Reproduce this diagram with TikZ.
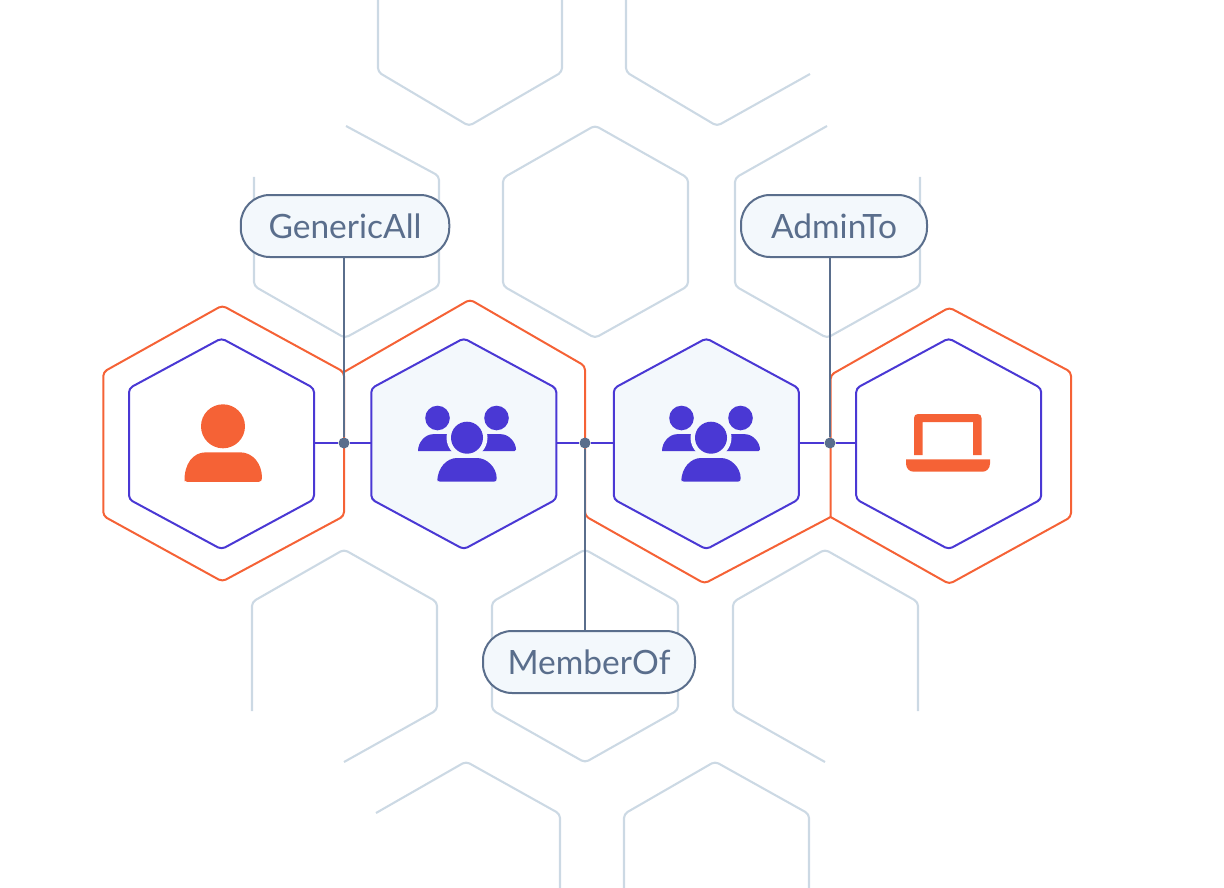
\documentclass[tikz,border=0pt]{standalone}
\usepackage{fontspec}
\setmainfont{Lato}
\usetikzlibrary{positioning, calc}
\definecolor{hexgrey}{HTML}{CCD9E4}
\definecolor{hexorange}{HTML}{F56236}
\definecolor{hexpurple}{HTML}{4A38D4}
\definecolor{slate}{HTML}{5A6E8C}
\definecolor{paleblue}{HTML}{F3F8FC}

\begin{document}
\begin{tikzpicture}
  [
  x = 1pt, y = -1pt,
  % background hexagons
  mesh/.style = {draw=hexgrey, line width=2.1pt, rounded corners=4pt},
  % big hexagons
  outer/.style = {draw=hexorange, line width=2pt, rounded corners=4pt},
  % hexagon round an icon
  inner/.style = {draw=hexpurple, line width=2pt, rounded corners=4pt},
  % empty box with the size of a hexagon
  hexbox/.style = {rectangle, inner sep=0pt, minimum width=185pt, minimum height=211pt},
  % label
  tag/.style = {rectangle, rounded corners=29pt, draw=slate, line width=2pt, fill=paleblue,
    text=slate, inner sep=0pt, minimum height=62pt, font=\fontsize{33.5}{33.5}\selectfont},
  % dot on a line
  joint/.style = {circle, fill=slate, inner sep=0pt, minimum size=11pt},
  link/.style = {draw=hexpurple, line width=2pt},
  stem/.style = {draw=slate, line width=2pt},
  hexa/.pic = {
    \path [pic actions] (0,-105.5) -- (92.5,-55.5) -- (92.5,55.5) -- (0,105.5)
    -- (-92.5,55.5) -- (-92.5,-55.5) -- cycle;
  },
  usericon/.pic = {
    \fill (0,-17.5) circle (22);
    \fill (-38.5,38) .. controls (-39,20) and (-30,8.5) .. (-17,8.5) -- (17,8.5)
    .. controls (30,8.5) and (39,20) .. (39,34) .. controls (39,36.5) and (38,38) .. (36,38)
    -- (-36,38) .. controls (-38,38) and (-39,36.5) .. (-38.5,34) -- cycle;
  },
  groupicon/.pic = {
    \fill (-29.5,-25.5) circle (12.3);
    \fill (29.5,-25.5) circle (12.3);
    \fill (-49,7.5) .. controls (-49,-1) and (-42,-9.3) .. (-34,-9.3) -- (34,-9.3)
    .. controls (42,-9.3) and (49,-1) .. (49,6) .. controls (49,7) and (48.5,7.5) .. (47.5,7.5) -- cycle;
    \fill [paleblue] (0,-5.8) circle (20.5);
    \fill [paleblue] (-15,7.6) rectangle (15,14);
    \fill (0,-5.8) circle (16);
    \fill (-29.7,38.2) .. controls (-29.7,24) and (-20,14.5) .. (-10,14.5) -- (10,14.5)
    .. controls (20,14.5) and (29.7,24) .. (29.7,35) .. controls (29.7,37) and (28.7,38.2) .. (27,38.2)
    -- (-27,38.2) .. controls (-28.7,38.2) and (-29.7,37) .. (-29.7,35) -- cycle;
  },
  laptopicon/.pic = {
    \fill (-34.5,11.5) -- (-34.5,-25.5) .. controls (-34.5,-28) and (-33,-29.5) .. (-30.5,-29.5)
    -- (29,-29.5) .. controls (31.5,-29.5) and (33,-28) .. (33,-25.5) -- (33,11.5)
    -- (24.7,11.5) -- (24.7,-21.5) -- (-25.8,-21.5) -- (-25.8,11.5) -- cycle;
    \fill (-42.5,15.8) -- (41.5,15.8) -- (41.5,20)
    .. controls (41.5,25) and (38,28.2) .. (34,28.2) -- (-35,28.2)
    .. controls (-39,28.2) and (-42.5,25) .. (-42.5,20) -- cycle;
  },
  ]

  \useasboundingbox (0,0) rectangle (1224,888);

  % background hexagons
  \draw [mesh] (378,0) -- (378,72) -- (469,126) -- (562,72) -- (562,0);
  \draw [mesh] (626,0) -- (626,72) -- (717,126) -- (810,74);
  \draw [mesh] (346,126) -- (439,176) -- (439,286) -- (345,338) -- (254,286) -- (254,177);
  \draw [mesh] (595,125.5) -- (688,178) -- (688,286) -- (595,338) -- (503,286) -- (503,178) -- cycle;
  \draw [mesh] (827,126) -- (735,178) -- (735,286) -- (827,338) -- (920,286) -- (920,177);
  \draw [mesh] (252,711) -- (252,602) -- (344,549.5) -- (437,602) -- (437,710) -- (344,762);
  \draw [mesh] (585,549.5) -- (678,602) -- (678,710) -- (585,762.5) -- (492,710) -- (492,602) -- cycle;
  \draw [mesh] (918,711) -- (918,602) -- (825,549.5) -- (733,602) -- (733,710) -- (825,762);
  \draw [mesh] (376,813) -- (466,761.5) -- (560,814) -- (560,888);
  \draw [mesh] (624,888) -- (624,814) -- (715,761.5) -- (809,814) -- (809,888);

  % big hexagons
  \draw [outer] (222.3,305.5) -- (344,372) -- (344,516) -- (222.3,581.5) -- (103.3,516) -- (103.3,372) -- cycle;
  \draw [outer] (344,372) -- (470,299.5) -- (585,366) -- (585,516) -- (704.5,583.5) -- (830.6,517);
  \draw [outer] (830.6,517) -- (830.6,375) -- (949.3,307.5) -- (1071,372) -- (1071,517)
  -- (949.3,584) -- (830.6,517);

  % hexagons
  \pic [inner] at (221.5,443.8) {hexa};
  \pic [inner, fill=paleblue] at (463.8,443.8) {hexa};
  \pic [inner, fill=paleblue] at (706.3,443.8) {hexa};
  \pic [inner] at (948.7,443.8) {hexa};

  % nodes
  \node [hexbox] (user) at (221.5,443) {};
  \node [hexbox] (groupa) at (463.8,443) {};
  \node [hexbox] (groupb) at (706.3,443) {};
  \node [hexbox] (laptop) at (948.7,443) {};
  \node [joint] (jointa) at (344,443) {};
  \node [joint] (jointb) at (585,443) {};
  \node [joint] (jointc) at (830,443) {};
  \node [tag, minimum width=208.5pt] (generic) at (345,226) {GenericAll};
  \node [tag, minimum width=186pt] (admin) at (834,226) {AdminTo};
  \node [tag, minimum width=212pt] (member) at (589,662) {MemberOf};

  % icons
  \pic [hexorange] at (223,443.8) {usericon};
  \pic [hexpurple] at (467,443.5) {groupicon};
  \pic [hexpurple] at (711,443.5) {groupicon};
  \pic [hexorange] at (948.5,443.5) {laptopicon};

  % path
  \path [link] (user.east) -- (jointa);
  \path [link] (jointa) -- (groupa.west);
  \path [link] (groupa.east) -- (jointb);
  \path [link] (jointb) -- (groupb.west);
  \path [link] (groupb.east) -- (jointc);
  \path [link] (jointc) -- (laptop.west);
  \path [stem] (generic.south -| jointa) -- (jointa);
  \path [stem] (member.north -| jointb) -- (jointb);
  \path [stem] (admin.south -| jointc) -- (jointc);

\end{tikzpicture}
\end{document}
